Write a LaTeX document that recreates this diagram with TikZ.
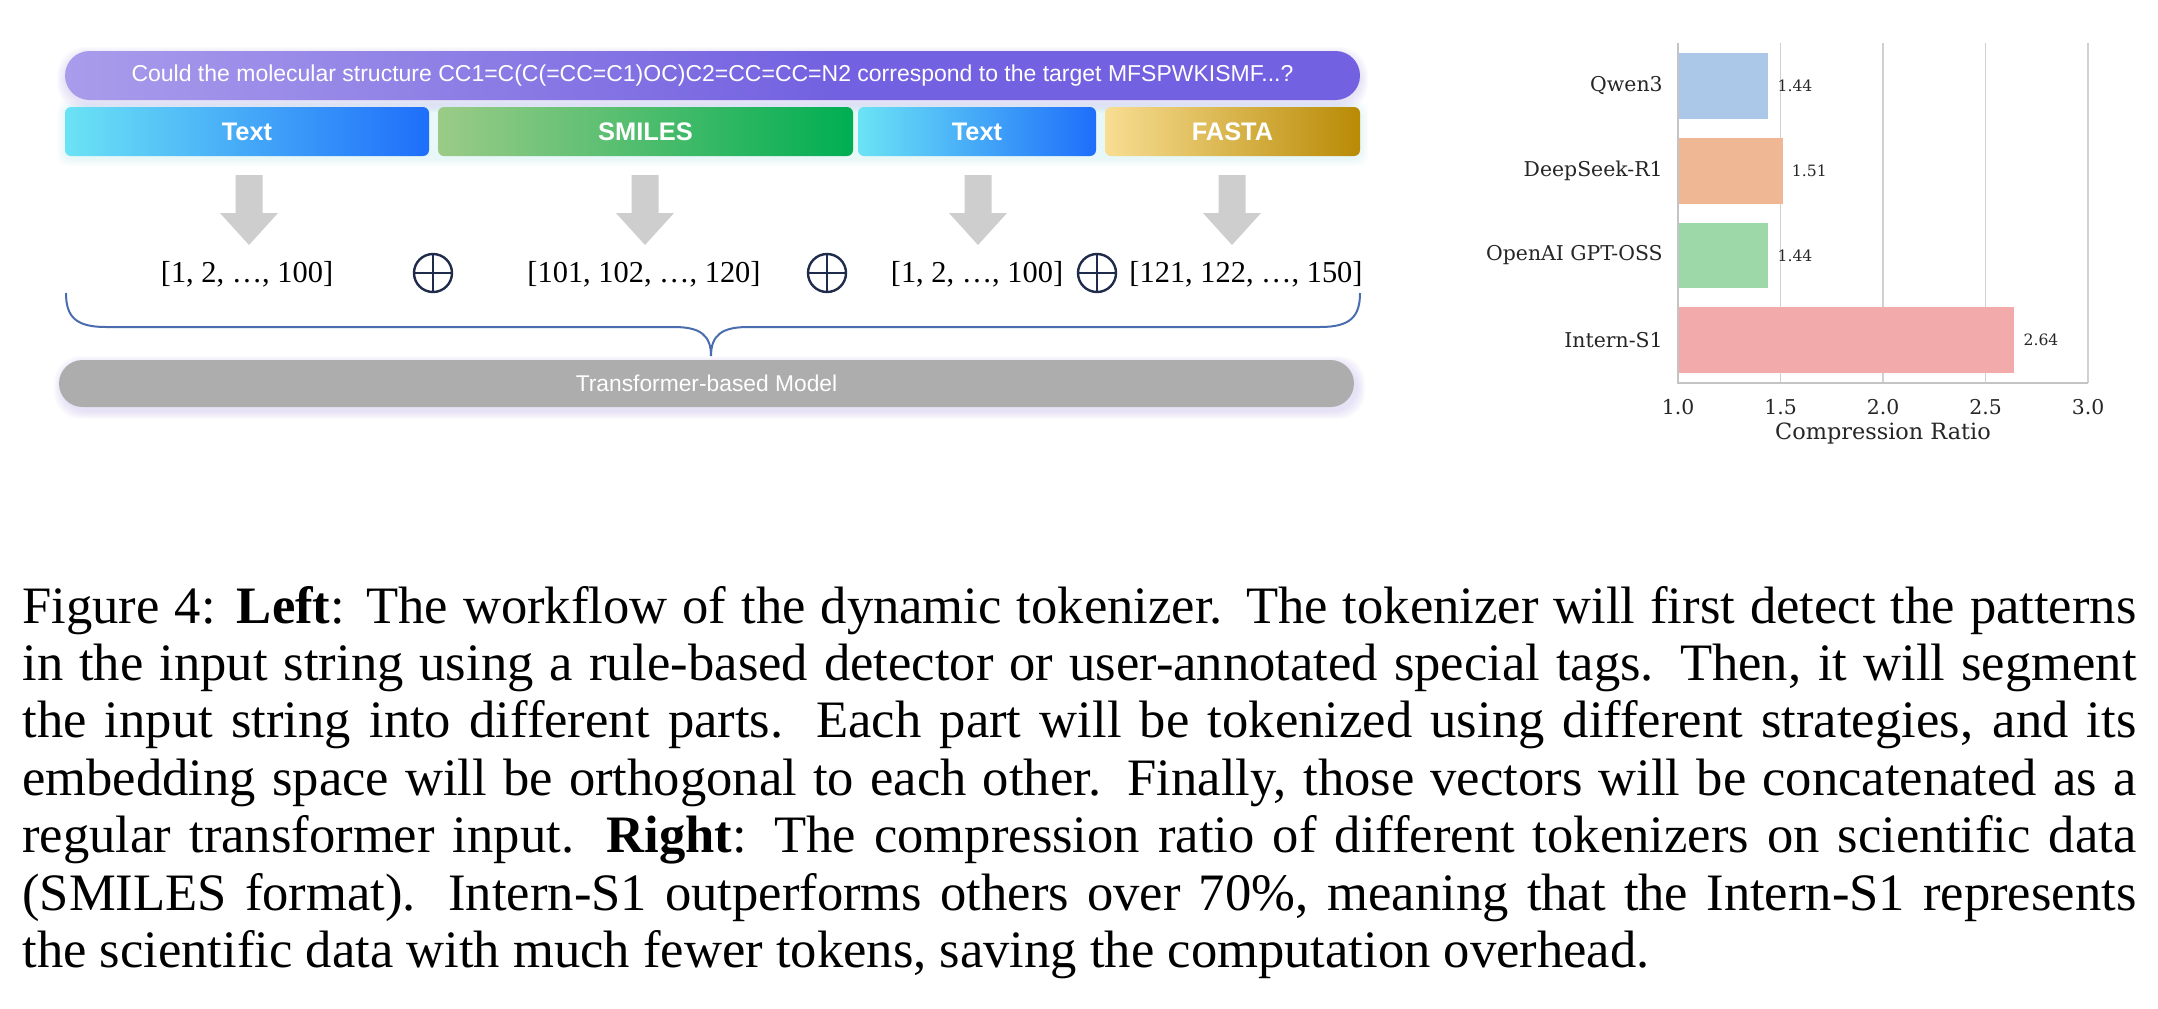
\documentclass[tikz,border=0pt]{standalone}
\usepackage{fontspec}
\setmainfont{Liberation Serif}
\setsansfont{Liberation Sans}
\newfontfamily\chartfont{DejaVu Serif}
\definecolor{qL}{HTML}{A99CEB}
\definecolor{qR}{HTML}{7261E0}
\definecolor{tL}{HTML}{6BE3F5}
\definecolor{tR}{HTML}{1E6EFA}
\definecolor{sL}{HTML}{9BCB88}
\definecolor{sR}{HTML}{00AE52}
\definecolor{fL}{HTML}{F8DE93}
\definecolor{fR}{HTML}{B88A05}
\definecolor{tfgray}{HTML}{ADADAD}
\definecolor{arrgray}{HTML}{CECECE}
\definecolor{navy}{HTML}{1F2B4A}
\definecolor{braceblue}{HTML}{4A6DB0}
\definecolor{gridgray}{HTML}{D0D0D0}
\definecolor{spinegray}{HTML}{C4C4C4}
\definecolor{barA}{HTML}{ABC8E8}
\definecolor{barB}{HTML}{EFB793}
\definecolor{barC}{HTML}{9DD9A8}
\definecolor{barD}{HTML}{F2ABAA}
\definecolor{glowc}{HTML}{B8E6F5}
\pgfdeclarehorizontalshading{qshade}{100bp}{color(0bp)=(qL); color(25bp)=(qL); color(55bp)=(qR); color(100bp)=(qR)}
\begin{document}
\begin{tikzpicture}[x=0.5pt,y=-0.5pt,
  seg/.style={rounded corners=3pt, minimum height=24.5pt, inner sep=0pt, text=white,
    font=\sffamily\bfseries\fontsize{12.7}{14}\selectfont},
  numlist/.style={font=\fontsize{15.2}{17}\selectfont, inner sep=0pt},
  oplus/.style={circle, draw=navy, line width=1.2pt, minimum size=19pt, inner sep=0pt,
    path picture={\draw[navy, line width=1.2pt] (path picture bounding box.north) -- (path picture bounding box.south)
      (path picture bounding box.west) -- (path picture bounding box.east);}},
  blockarrow/.style={fill=arrgray},
  ylab/.style={anchor=east, font=\chartfont\fontsize{10.2}{12}\selectfont, inner sep=0pt, text=black!85},
  vlab/.style={anchor=west, font=\chartfont\fontsize{7.8}{9}\selectfont, inner sep=0pt, text=black!85},
  tlab/.style={font=\chartfont\fontsize{10.2}{12}\selectfont, inner sep=0pt, text=black!85},
  xlab/.style={font=\chartfont\fontsize{11.2}{13}\selectfont, inner sep=0pt, text=black!85}
]
\fill[white] (0,0) rectangle (2158,1008);
\useasboundingbox (0,0) rectangle (2158,1008);

% glows
\foreach \i in {1,...,8}{
  \fill[qL, opacity=0.035, rounded corners=14pt] (65-\i,51-\i+4) rectangle (1360+\i,100+\i+4);
  \fill[glowc, opacity=0.04, rounded corners=5pt] (65-\i,107-\i+2) rectangle (1360+\i,156+\i+2);
  \fill[qL, opacity=0.035, rounded corners=13pt] (59-\i+3,360-\i+4) rectangle (1354+\i+3,407+\i+4);
}

% query pill
\node[shading=qshade, rounded corners=12.25pt, minimum width=647.5pt, minimum height=24.5pt, inner sep=0pt,
  text=white, font=\sffamily\fontsize{11.5}{13}\selectfont] (query) at (712.5,75.5)
  {Could the molecular structure CC1=C(C(=CC=C1)OC)C2=CC=CC=N2 correspond to the target MFSPWKISMF...?};

% segment boxes
\node[seg, left color=tL, right color=tR, minimum width=182pt] (text1) at (247,131.5) {Text};
\node[seg, left color=sL, right color=sR, minimum width=207.5pt] (smiles) at (645.5,131.5) {SMILES};
\node[seg, left color=tL, right color=tR, minimum width=119pt] (text2) at (977,131.5) {Text};
\node[seg, left color=fL, right color=fR, minimum width=127.5pt] (fasta) at (1232.5,131.5) {FASTA};

% block arrows
\foreach \c in {249,645,978,1232}{
  \fill[blockarrow] (\c-13.5,175) -- (\c+13.5,175) -- (\c+13.5,213) -- (\c+29,213) -- (\c,245)
    -- (\c-29,213) -- (\c-13.5,213) -- cycle;
}

% token lists
\node[numlist] (l1) at (247,274) {[1, 2, …, 100]};
\node[oplus] (p1) at (433,273) {};
\node[numlist] (l2) at (644,274) {[101, 102, …, 120]};
\node[oplus] (p2) at (827,273) {};
\node[numlist] (l3) at (977,274) {[1, 2, …, 100]};
\node[oplus] (p3) at (1097,273) {};
\node[numlist] (l4) at (1246,274) {[121, 122, …, 150]};

% brace
\coordinate (bL) at (66,293);
\coordinate (bT) at (711,356);
\coordinate (bR) at (1360,293);
\draw[braceblue, line width=1pt] (bL) .. controls (66,317) and (76,327) .. (106,327) -- (674,327)
  .. controls (700,327) and (711,335) .. (bT)
  .. controls (711,335) and (722,327) .. (748,327) -- (1320,327)
  .. controls (1350,327) and (1360,317) .. (bR);

% transformer bar
\node[fill=tfgray, rounded corners=11.75pt, minimum width=647.5pt, minimum height=23.5pt, inner sep=0pt,
  text=white, font=\sffamily\fontsize{11.4}{13}\selectfont] (tf) at (706.5,383.5) {Transformer-based Model};

% ---------- chart ----------
\foreach \v in {1.5,2.0,2.5,3.0}{
  \draw[gridgray, line width=0.8pt] ({1678+(\v-1)*205},43) -- ({1678+(\v-1)*205},383);
}
\fill[barA] (1678,53) rectangle ({1678+0.44*205},119);
\fill[barB] (1678,138) rectangle ({1678+0.51*205},204);
\fill[barC] (1678,223) rectangle ({1678+0.44*205},288);
\fill[barD] (1678,307) rectangle ({1678+1.64*205},373);
\draw[spinegray, line width=1pt] (1678,43) -- (1678,383) -- (2088,383);

\node[ylab] (yq) at (1663,86) {Qwen3};
\node[ylab] (yd) at (1663,171) {DeepSeek-R1};
\node[ylab] (yo) at (1663,255.5) {OpenAI GPT-OSS};
\node[ylab] (yi) at (1663,340) {Intern-S1};

\node[vlab] (vq) at ({1678+0.44*205+9},86) {1.44};
\node[vlab] (vd) at ({1678+0.51*205+9},171) {1.51};
\node[vlab] (vo) at ({1678+0.44*205+9},255.5) {1.44};
\node[vlab] (vi) at ({1678+1.64*205+9},340) {2.64};

\node[tlab] (t1) at (1678,407) {1.0};
\node[tlab] (t2) at (1780.5,407) {1.5};
\node[tlab] (t3) at (1883,407) {2.0};
\node[tlab] (t4) at (1985.5,407) {2.5};
\node[tlab] (t5) at (2088,407) {3.0};
\node[xlab] (xl) at (1883,434) {Compression Ratio};

% ---------- caption ----------
\node[anchor=base west, inner sep=0pt, text width=1057pt, align=justify,
  font=\fontsize{26.3}{28.7}\selectfont] (cap) at (22,623) {%
Figure 4: \textbf{Left}: The workflow of the dynamic tokenizer. The tokenizer will first detect the patterns\linebreak
in the input string using a rule-based detector or user-annotated special tags. Then, it will segment\linebreak
the input string into different parts. Each part will be tokenized using different strategies, and its\linebreak
embedding space will be orthogonal to each other. Finally, those vectors will be concatenated as a\linebreak
regular transformer input. \textbf{Right}: The compression ratio of different tokenizers on scientific data\linebreak
(SMILES format). Intern-S1 outperforms others over 70\%, meaning that the Intern-S1 represents\linebreak
the scientific data with much fewer tokens, saving the computation overhead.};
\end{tikzpicture}
\end{document}
